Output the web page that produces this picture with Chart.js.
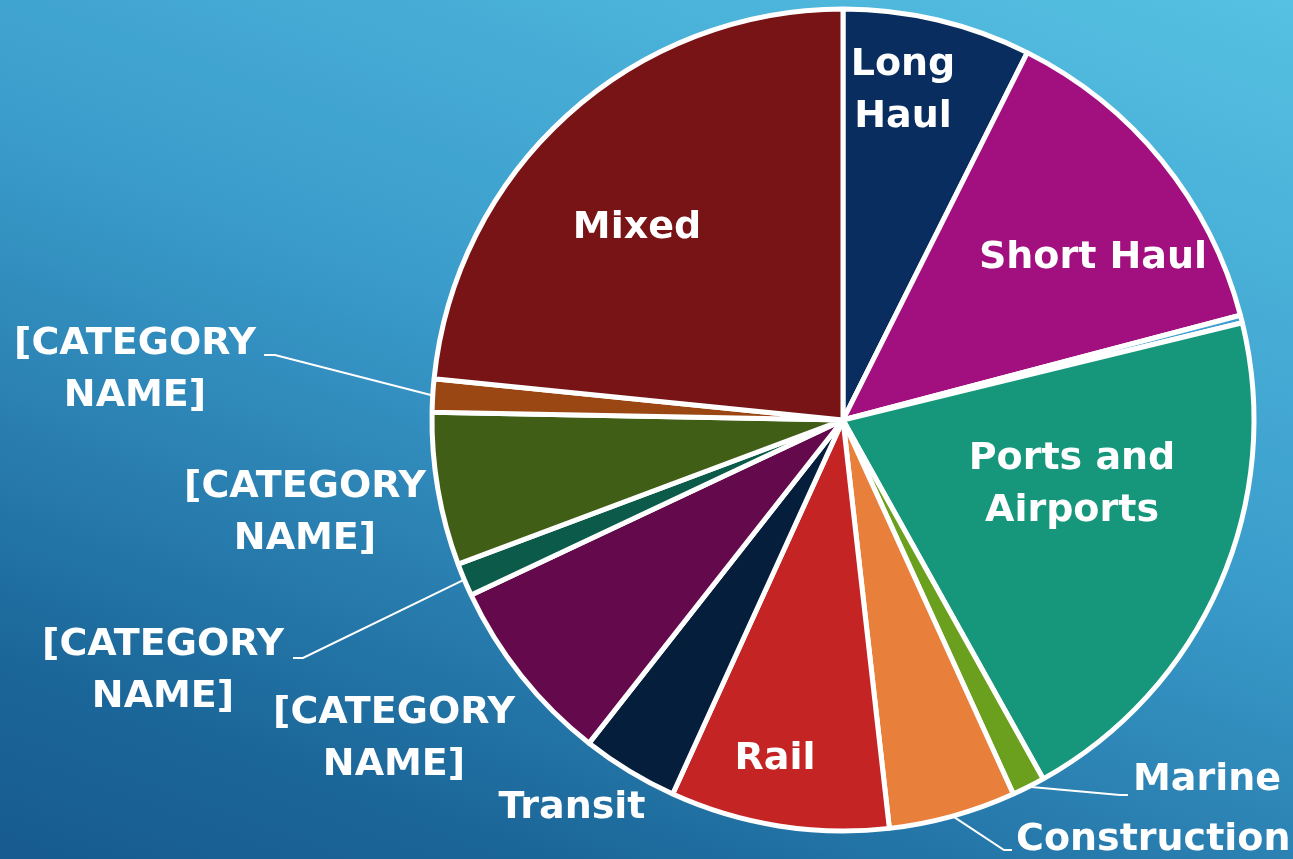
<!DOCTYPE html>
<html>
<head>
<meta charset="utf-8">
<script src="https://cdn.jsdelivr.net/npm/chart.js@4"></script>
<style>
  html, body { margin: 0; padding: 0; }
  body {
    width: 1293px; height: 859px; overflow: hidden;
    background: linear-gradient(200deg, #56c1e2 0%, #3a9ccb 45%, #1b6699 85%, #175b90 100%);
  }
  #wrap { position: relative; width: 1293px; height: 859px; }
</style>
</head>
<body>
<div id="wrap"><canvas id="pie" width="1293" height="859"></canvas></div>
<script>
// Categorias en sentido horario desde las 12
const categorias = ['Long Haul', 'Short Haul', '', 'Ports and Airports', 'Marine', 'Construction',
  'Rail', 'Transit', '[CATEGORY NAME]', '[CATEGORY NAME]', '[CATEGORY NAME]', '[CATEGORY NAME]', 'Mixed']
// Porcentajes
const valores = [7.4, 13.5, 0.3, 20.7, 1.3, 5.0, 8.6, 3.8, 7.4, 1.3, 6.0, 1.3, 23.4]
const colores = ['#082d5e', '#a2107f', '#3d9fcf', '#16977b', '#6b9f1e', '#e8803b',
  '#c42424', '#051e3c', '#640a4c', '#0b5a4a', '#405e15', '#9a4713', '#781416']

// Donde va cada etiqueta (desplazamiento desde el centro), lineas de texto y si lleva linea guia
const etiquetas = [
  { lineas: ['Long', 'Haul'], dx: 60, dy: -329, align: 'center' },
  { lineas: ['Short Haul'], dx: 250, dy: -162, align: 'center' },
  null,
  { lineas: ['Ports and', 'Airports'], dx: 229, dy: 65, align: 'center' },
  { lineas: ['Marine'], dx: 290, dy: 360, align: 'left', guia: [[277, 375], [285, 375]] },
  { lineas: ['Construction'], dx: 173, dy: 420, align: 'left', guia: [[161, 430], [169, 430]] },
  { lineas: ['Rail'], dx: -68, dy: 339, align: 'center' },
  { lineas: ['Transit'], dx: -271, dy: 388, align: 'center' },
  { lineas: ['[CATEGORY', 'NAME]'], dx: -449, dy: 319, align: 'center' },
  { lineas: ['[CATEGORY', 'NAME]'], dx: -680, dy: 251, align: 'center', guia: [[-540, 238], [-550, 238]] },
  { lineas: ['[CATEGORY', 'NAME]'], dx: -538, dy: 93, align: 'center' },
  { lineas: ['[CATEGORY', 'NAME]'], dx: -708, dy: -50, align: 'center', guia: [[-568, -65], [-579, -65]] },
  { lineas: ['Mixed'], dx: -206, dy: -192, align: 'center' },
]

const pluginEtiquetas = {
  id: 'etiquetas',
  afterDatasetsDraw(chart) {
    const ctx = chart.ctx
    const arcs = chart.getDatasetMeta(0).data
    ctx.save()
    ctx.fillStyle = '#ffffff'
    ctx.strokeStyle = '#ffffff'
    ctx.lineWidth = 2
    ctx.font = 'bold 38px "DejaVu Sans"'
    ctx.textBaseline = 'middle'
    arcs.forEach((arc, i) => {
      const e = etiquetas[i]
      if (!e) return
      const cx = arc.x, cy = arc.y
      if (e.guia) {
        const medio = (arc.startAngle + arc.endAngle) / 2
        ctx.beginPath()
        ctx.moveTo(cx + arc.outerRadius * Math.cos(medio), cy + arc.outerRadius * Math.sin(medio))
        for (let p of e.guia) ctx.lineTo(cx + p[0], cy + p[1])
        ctx.stroke()
      }
      ctx.textAlign = e.align
      const alto = 52
      const y0 = cy + e.dy - (e.lineas.length - 1) * alto / 2
      e.lineas.forEach((t, k) => ctx.fillText(t, cx + e.dx, y0 + k * alto))
    })
    ctx.restore()
  }
}

new Chart(document.getElementById('pie'), {
  type: 'pie',
  data: {
    labels: categorias,
    datasets: [{
      data: valores,
      backgroundColor: colores,
      borderColor: '#ffffff',
      borderWidth: 5,
    }]
  },
  options: {
    responsive: false,
    animation: false,
    radius: 411,
    layout: { padding: { left: 393, right: 0, top: 0, bottom: 19 } },
    plugins: {
      legend: { display: false },
      tooltip: { enabled: false },
    }
  },
  plugins: [pluginEtiquetas]
})
</script>
</body>
</html>
